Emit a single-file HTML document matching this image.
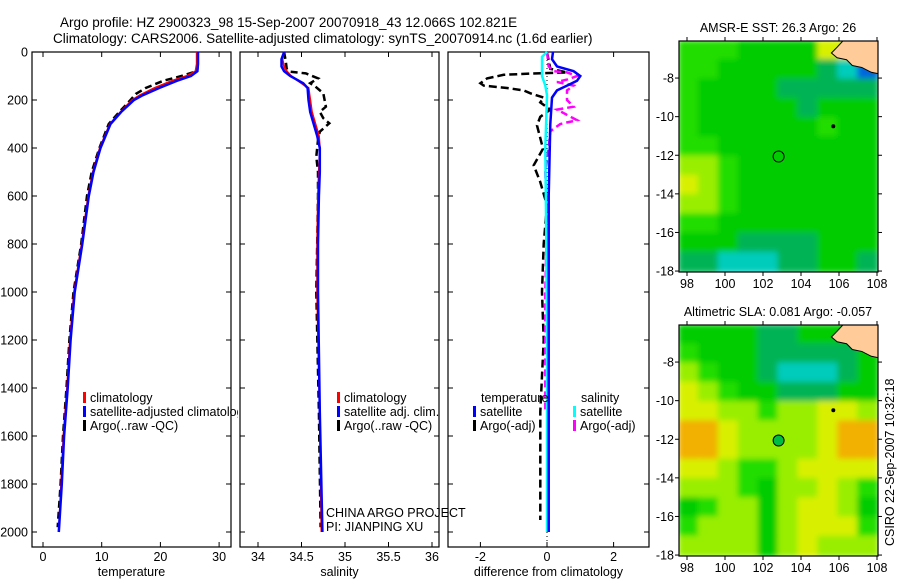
<!DOCTYPE html>
<html><head><meta charset="utf-8"><style>
body{margin:0;background:#fff;}
svg text{font-family:"Liberation Sans",sans-serif;fill:#000;}
</style></head><body>
<svg id="fig" width="900" height="580" viewBox="0 0 900 580" xmlns="http://www.w3.org/2000/svg">
<defs>
<filter id="blur" x="-5%" y="-5%" width="110%" height="110%"><feGaussianBlur stdDeviation="3"/></filter>
<clipPath id="p1clip"><rect x="0" y="0" width="238" height="580"/></clipPath>
</defs>
<text x="60" y="27" font-size="13.5">Argo profile: HZ 2900323_98 15-Sep-2007 20070918_43 12.066S 102.821E</text>
<text x="53" y="43" font-size="13.5">Climatology: CARS2006. Satellite-adjusted climatology: synTS_20070914.nc (1.6d earlier)</text>
<g id="p1" clip-path="url(#p1clip)"></g>
<g id="p2"></g>
<g id="p3"></g>
<g id="m1"></g>
<g id="m2"></g>
<text transform="translate(894,546) rotate(-90)" font-size="12.5">CSIRO 22-Sep-2007 10:32:18</text>
</svg>
<script>
// ---- data ----
const tDepth=[0,50,80,100,120,150,180,200,250,300,400,500,600,800,1000,1200,1400,1600,1800,2000];
const tClim=[26.2,26.2,26.0,24.5,22,19,16.5,15.2,13.2,11.4,9.7,8.5,7.7,6.6,5.3,4.6,4.1,3.5,3.1,2.7];
const tSat=[26.4,26.4,26.3,25.2,22.8,19.8,17,15.5,13.3,11.5,9.8,8.6,7.8,6.7,5.4,4.7,4.2,3.6,3.2,2.7];
const tArgoDepth=[0,70,85,100,120,150,175,200,250,300,400,500,600,800,1000,1200,1400,1600,1800,1980];
const tArgo=[26.3,26.3,25.5,23.6,20.5,17.5,15.8,14.9,13.0,11.2,9.6,8.3,7.5,6.5,5.2,4.5,4.0,3.4,3.0,2.5];
const sDepth=[0,30,60,80,100,130,150,200,250,300,350,400,500,600,800,1000,1500,2000];
const sClim=[34.3,34.28,34.3,34.33,34.38,34.5,34.58,34.6,34.62,34.66,34.7,34.71,34.7,34.69,34.68,34.68,34.71,34.73];
const sSat=[34.3,34.27,34.27,34.3,34.37,34.52,34.57,34.58,34.6,34.64,34.68,34.71,34.71,34.7,34.69,34.69,34.71,34.74];
const sArgoDepth=[0,40,70,82,89,110,130,144,172,228,249,276,297,332,367,436,500,600,800,1000,1500,1980];
const sArgo=[34.3,34.32,34.33,34.37,34.55,34.69,34.6,34.66,34.75,34.78,34.71,34.75,34.82,34.71,34.69,34.67,34.69,34.69,34.68,34.67,34.7,34.72];
const dTSatDepth=[0,30,60,80,100,120,140,160,190,300,600,2000];
const dTSat=[0.18,0.15,0.3,0.8,1.0,0.9,0.6,0.3,0.15,0.1,0.05,0.05];
const dTArgoDepth=[0,70,85,90,95,110,130,140,150,160,172,190,210,240,270,306,403,472,542,639,800,1000,1200,1500,1800,1950];
const dTArgo=[0,0.1,0.6,-0.5,-1.3,-1.8,-2.0,-1.9,-1.2,-0.7,-0.5,-0.1,-0.2,0.1,-0.2,-0.3,-0.12,-0.4,-0.2,0,-0.1,-0.15,-0.1,-0.2,-0.2,-0.2];
const dSSatDepth=[0,20,50,100,140,180,400,800,1200,2000];
const dSSat=[0,-0.15,-0.15,-0.15,-0.05,0,-0.05,-0.02,0,0];
const dSArgoDepth=[0,60,80,85,100,115,125,140,160,200,228,240,284,300,330,400,500,700,1000,1500];
const dSArgo=[0,0.05,0.2,0.6,0.9,0.6,0.3,0.8,0.6,0.6,0.8,0.3,0.9,0.4,0.1,0.05,-0.05,0,-0.05,-0.05];
const depthTicks=[0,200,400,600,800,1000,1200,1400,1600,1800,2000];
const tTicks=[0,10,20,30];
const sTicks=[34,34.5,35,35.5,36];
const dTicks=[-2,0,2];
const lonTicks=[98,100,102,104,106,108];
const latTicks=[-8,-10,-12,-14,-16,-18];
const sstGrid=["66655558LL","6655555432","6555544444","6555554555","6555555655","6655555555","7765555555","8765555555","7765555555","6655555555","5554444555","4433344554"];
const slaGrid=["55554455LL","6555444445","7655433345","8765544455","8877677887","9987777899","9987777899","8876678888","7776577876","5677578875","6777578886","7777578777"];
const argoLon=102.821, argoLat=-12.066;
// ---- helpers ----
const NS="http://www.w3.org/2000/svg";
function mk(tag,attrs,parent){const e=document.createElementNS(NS,tag);for(const k in attrs)e.setAttribute(k,attrs[k]);parent.appendChild(e);return e;}
const yD=d=>52+d*0.24;
function axisPanel(g,x0,x1,xs,ticks,fmt,label,yLabels){
  for(const d of depthTicks){const y=yD(d);
    mk('line',{x1:x0,y1:y,x2:x0+5,y2:y,stroke:'#000'},g);
    mk('line',{x1:x1-5,y1:y,x2:x1,y2:y,stroke:'#000'},g);
    if(yLabels){const t=mk('text',{x:x0-4,y:y+4.5,'font-size':12.5,'text-anchor':'end'},g);t.textContent=d;
      
      }
  }
  for(const v of ticks){const x=xs(v);
    mk('line',{x1:x,y1:52,x2:x,y2:57,stroke:'#000'},g);
    mk('line',{x1:x,y1:542,x2:x,y2:547,stroke:'#000'},g);
    const t=mk('text',{x:x,y:561,'font-size':12.5,'text-anchor':'middle'},g);t.textContent=fmt(v);
    
    }
  const r=mk('rect',{x:x0,y:52,width:x1-x0,height:495,fill:'none',stroke:'#000','stroke-width':1.2},g);
  
  
  const l=mk('text',{x:(x0+x1)/2,y:576,'font-size':12.5,'text-anchor':'middle'},g);l.textContent=label;
  
  
}
function line(g,depths,vals,xs,color,w,dash,name){
  const pts=depths.map((d,i)=>xs(vals[i]).toFixed(1)+','+yD(d).toFixed(1)).join(' ');
  const p=mk('polyline',{points:pts,fill:'none',stroke:color,'stroke-width':w},g);
  if(dash)p.setAttribute('stroke-dasharray',dash);
  
  
}
function legend(g,x,y,color,text){
  mk('rect',{x:x,y:y-10,width:3,height:11,fill:color},g);
  const t=mk('text',{x:x+7,y:y,'font-size':12.5},g);t.textContent=text;
  
  
}
// ---- panel 1 ----
const p1=document.getElementById('p1');
const xT=v=>43+v*5.87;
axisPanel(p1,32,231,xT,tTicks,v=>v,'temperature',true);
line(p1,tArgoDepth,tArgo,xT,'#000',2.5,'7,4','temp-argo-line');
line(p1,tDepth,tClim,xT,'#f00',2,null,'temp-climatology-line');
line(p1,tDepth,tSat,xT,'#00f',2.5,null,'temp-satellite-line');
legend(p1,83,402,'#f00','climatology');
legend(p1,83,416,'#00f','satellite-adjusted climatology');
legend(p1,83,430,'#000','Argo(..raw -QC)');
// ---- panel 2 ----
const p2=document.getElementById('p2');
const xS=v=>258+(v-34)*87;
axisPanel(p2,240,439,xS,sTicks,v=>v,'salinity',false);
line(p2,sArgoDepth,sArgo,xS,'#000',2.5,'7,4','sal-argo-line');
line(p2,sDepth,sClim,xS,'#f00',2,null,'sal-climatology-line');
line(p2,sDepth,sSat,xS,'#00f',2.5,null,'sal-satellite-line');
legend(p2,337,402,'#f00','climatology');
legend(p2,337,416,'#00f','satellite adj. clim.');
legend(p2,337,430,'#000','Argo(..raw -QC)');
let t=mk('text',{x:326,y:517,'font-size':12.5},p2);t.textContent='CHINA ARGO PROJECT';


t=mk('text',{x:326,y:531,'font-size':12.5},p2);t.textContent='PI: JIANPING XU';


// ---- panel 3 ----
const p3=document.getElementById('p3');
const xDf=v=>547+v*33.3;
axisPanel(p3,448,649,xDf,dTicks,v=>v,'difference from climatology',false);
mk('line',{x1:xDf(0),y1:52,x2:xDf(0),y2:547,stroke:'#000','stroke-dasharray':'1,3'},p3);
line(p3,dTArgoDepth,dTArgo,xDf,'#000',2.5,'8,4','diff-temp-argo-line');
line(p3,dSArgoDepth,dSArgo,xDf,'#f0f',2.5,'7,4','diff-sal-argo-line');
line(p3,dSSatDepth,dSSat,xDf,'#0ff',2.5,null,'diff-sal-satellite-line');
line(p3,dTSatDepth,dTSat,xDf,'#00f',2.5,null,'diff-temp-satellite-line');
t=mk('text',{x:481,y:402,'font-size':12.5},p3);t.textContent='temperature';


t=mk('text',{x:581,y:402,'font-size':12.5},p3);t.textContent='salinity';


legend(p3,473,416,'#00f','satellite');
legend(p3,473,430,'#000','Argo(-adj)');
legend(p3,573,416,'#0ff','satellite');
legend(p3,573,430,'#f0f','Argo(-adj)');
// ---- maps ----
const cmap={'2':'#0066dd','3':'#00ccbb','4':'#00b455','5':'#00cc00','6':'#22dd00','7':'#99ee00','8':'#d8f000','9':'#f2b000'};
function drawMap(g,top,grid,title,filledMarker){
  const lx=v=>687+(v-98)*19, ly=v=>top+(-6.08-v)*19.3;
  const x0=679,x1=878,y0=top,y1=top+231;
  const cw=(x1-x0)/10, ch=(y1-y0)/12;
  const id='clip'+top;
  const cp=mk('clipPath',{id:id},g);mk('rect',{x:x0,y:y0,width:x1-x0,height:y1-y0},cp);
  const cg=mk('g',{'clip-path':'url(#'+id+')'},g);
  const bg=mk('g',{filter:'url(#blur)'},cg);
  grid.forEach((row,r)=>{[...row].forEach((c,ci)=>{
    let cc=c;
    if(cc==='L'){cc=row[ci-1]==='L'?row[ci-2]:row[ci-1];}
    const rc=mk('rect',{x:x0+ci*cw-1,y:y0+r*ch-1,width:cw+2,height:ch+2,fill:cmap[cc]||'#00cc00'},bg);
    
    
  });});
  const land=[[106.2,-6.08],[105.9,-6.4],[105.6,-6.7],[105.9,-6.95],[106.4,-7.05],[106.7,-7.35],[107.2,-7.45],[107.7,-7.7],[108.2,-7.8],[108.2,-6.08]];
  const lp=mk('polygon',{points:land.map(p=>lx(p[0])+','+ly(p[1])).join(' '),fill:'#ffcc99',stroke:'#000','stroke-width':1},cg);
  
  
  mk('circle',{cx:lx(105.7),cy:ly(-10.5),r:2,fill:'#000'},cg);
  const mc=mk('circle',{cx:lx(argoLon),cy:ly(argoLat),r:5.5,fill:filledMarker?'#00bb44':'none',stroke:'#000','stroke-width':1},cg);
  
  
  mk('rect',{x:x0,y:y0,width:x1-x0,height:y1-y0,fill:'none',stroke:'#000','stroke-width':1.2},g);
  for(const v of lonTicks){const x=lx(v);
    mk('line',{x1:x,y1:y0-4,x2:x,y2:y0,stroke:'#000'},g);
    mk('line',{x1:x,y1:y1,x2:x,y2:y1+4,stroke:'#000'},g);
    const tt=mk('text',{x:x,y:y1+16,'font-size':12.5,'text-anchor':'middle'},g);tt.textContent=v;
    
    }
  for(const v of latTicks){const y=ly(v);
    mk('line',{x1:x0-4,y1:y,x2:x0,y2:y,stroke:'#000'},g);
    mk('line',{x1:x1,y1:y,x2:x1+4,y2:y,stroke:'#000'},g);
    const tt=mk('text',{x:x0-5,y:y+4.5,'font-size':12.5,'text-anchor':'end'},g);tt.textContent=v;
    
    }
  const ti=mk('text',{x:778,y:top-9,'font-size':12.5,'text-anchor':'middle'},g);ti.textContent=title;
  
  
}
drawMap(document.getElementById('m1'),41,sstGrid,'AMSR-E SST: 26.3 Argo: 26',false);
drawMap(document.getElementById('m2'),325,slaGrid,'Altimetric SLA: 0.081 Argo: -0.057',true);
</script>
</body></html>
